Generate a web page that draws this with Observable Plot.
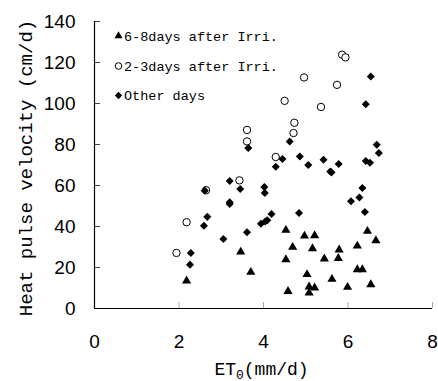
<!DOCTYPE html>
<html><head><meta charset="utf-8">
<script src="https://cdn.jsdelivr.net/npm/d3@7"></script>
<script src="https://cdn.jsdelivr.net/npm/@observablehq/plot@0.6"></script>
<style>body{margin:0;background:#fff}</style>
</head><body><div id="chart"></div>
<script>
const seriesNames = ["6-8days after Irri.", "2-3days after Irri.", "Other days"];

// 6-8 days after irrigation (triangles)
const triET = [2.18,3.46,3.70,4.53,4.53,4.58,4.69,4.97,5.03,5.08,5.08,5.21,5.16,5.21,5.44,5.62,5.79,5.77,5.99,6.22,6.22,6.34,6.46,6.54,6.66];
const triV  = [13.5,27.6,17.7,38.2,23.9,8.4,29.9,35.4,16.6,10.6,7.6,35.6,29.2,10.1,24.2,14.3,28.6,24.5,10.4,30.5,19.0,19.0,37.7,11.7,33.1];

// 2-3 days after irrigation (open circles)
const cirET = [1.94,2.18,2.64,3.43,3.61,3.61,4.29,4.50,4.73,4.71,4.96,5.36,5.74,5.86,5.94];
const cirV  = [27.1,42.1,57.7,62.5,87.1,81.5,73.9,101.3,90.6,85.6,112.7,98.3,109.1,123.8,122.5];

// Other days (diamonds)
const diaET = [2.26,2.28,2.59,2.67,2.61,3.05,3.20,3.20,3.20,3.45,3.61,3.64,3.94,4.02,4.03,4.04,4.09,4.19,4.29,4.45,4.62,4.84,4.86,5.06,5.42,5.58,5.61,5.78,6.07,6.27,6.34,6.40,6.42,6.52,6.42,6.54,6.68,6.73];
const diaV  = [21.4,27.1,40.4,44.7,57.5,33.9,62.2,51.8,51.0,58.3,37.2,78.3,41.3,59.3,56.4,42.4,43.0,46.1,69.2,72.9,81.5,46.6,74.1,70.0,72.6,66.8,66.4,70.5,52.3,54.2,58.8,47.1,71.9,71.1,99.6,113.2,79.9,75.8];

const xTicks = [0,2,4,6,8];
const yTicks = [0,20,40,60,80,100,120,140];
const xLabel = "ET0(mm/d)";
const yLabel = "Heat pulse velocity (cm/d)";

const rows = (xs, ys, s) => xs.map((x, i) => ({x, y: ys[i], s}));
const tri = rows(triET, triV, seriesNames[0]);
const cir = rows(cirET, cirV, seriesNames[1]);
const dia = rows(diaET, diaV, seriesNames[2]);

const diamond = {draw(ctx, size) {
  const h = Math.sqrt(size / 2);
  ctx.moveTo(0, -h); ctx.lineTo(h, 0); ctx.lineTo(0, h); ctx.lineTo(-h, 0); ctx.closePath();
}};

const mono = "Liberation Mono, DejaVu Sans Mono, monospace";
const legendStyles = [
  {symbol: "triangle", fill: "black", stroke: "none", r: 3.0},
  {symbol: "circle", fill: "white", stroke: "black", r: 3.3},
  {symbol: diamond, fill: "black", stroke: "none", r: 2.9}
];
const legendDy = [14.5, 44.5, 74];

const legendMarks = seriesNames.flatMap((name, i) => [
  Plot.dot([name], {frameAnchor: "top-left", dx: 24, dy: legendDy[i], ...legendStyles[i], strokeWidth: 1}),
  Plot.text([name], {text: d => d, frameAnchor: "top-left", dx: 29.5, dy: legendDy[i] + 0.5,
    textAnchor: "start", lineAnchor: "middle", fontFamily: mono, fontSize: 13.5, fill: "black"})
]);

const chart = Plot.plot({
  width: 438, height: 381,
  marginLeft: 94, marginRight: 6, marginTop: 21, marginBottom: 73,
  style: {fontFamily: "Liberation Sans, Arial, sans-serif", fontSize: "19px", background: "white", color: "black"},
  x: {domain: [0, 8], ticks: xTicks},
  y: {domain: [0, 140], ticks: yTicks},
  marks: [
    Plot.axisX({ticks: xTicks, tickSize: -6, tickPadding: 32, stroke: "#aaa", label: null, tickFormat: d => d}),
    Plot.axisY({ticks: yTicks, tickSize: -6, tickPadding: 25, stroke: "#444", label: null, tickFormat: d => d}),
    Plot.ruleY([0], {stroke: "black", strokeWidth: 1.2}),
    Plot.ruleX([0], {stroke: "black", strokeWidth: 1.2}),
    Plot.dot(tri, {x: "x", y: "y", symbol: "triangle", r: 3.4, fill: "black", stroke: "none"}),
    Plot.dot(cir, {x: "x", y: "y", symbol: "circle", r: 3.7, fill: "white", stroke: "black", strokeWidth: 1}),
    Plot.dot(dia, {x: "x", y: "y", symbol: diamond, r: 3.2, fill: "black", stroke: "none"}),
    ...legendMarks,
    Plot.text([yLabel], {text: d => d, frameAnchor: "left", rotate: -90, dx: -63, dy: 3,
      lineAnchor: "bottom", textAnchor: "middle", fontFamily: mono, fontSize: 19, fill: "black"}),
    Plot.text([xLabel], {text: d => d, frameAnchor: "bottom", dx: -2, dy: 66,
      lineAnchor: "bottom", textAnchor: "middle", fontFamily: mono, fontSize: 18, fill: "black"})
  ]
});
document.getElementById("chart").appendChild(chart);

// subscript the "0" in ET0
d3.select(chart).selectAll("text").each(function() {
  if (this.textContent === xLabel) {
    const t = d3.select(this);
    t.text("ET");
    t.append("tspan").attr("font-size", 13).attr("dy", 4).text("0");
    t.append("tspan").attr("dy", -4).text("(mm/d)");
  }
});
</script>
</body></html>
